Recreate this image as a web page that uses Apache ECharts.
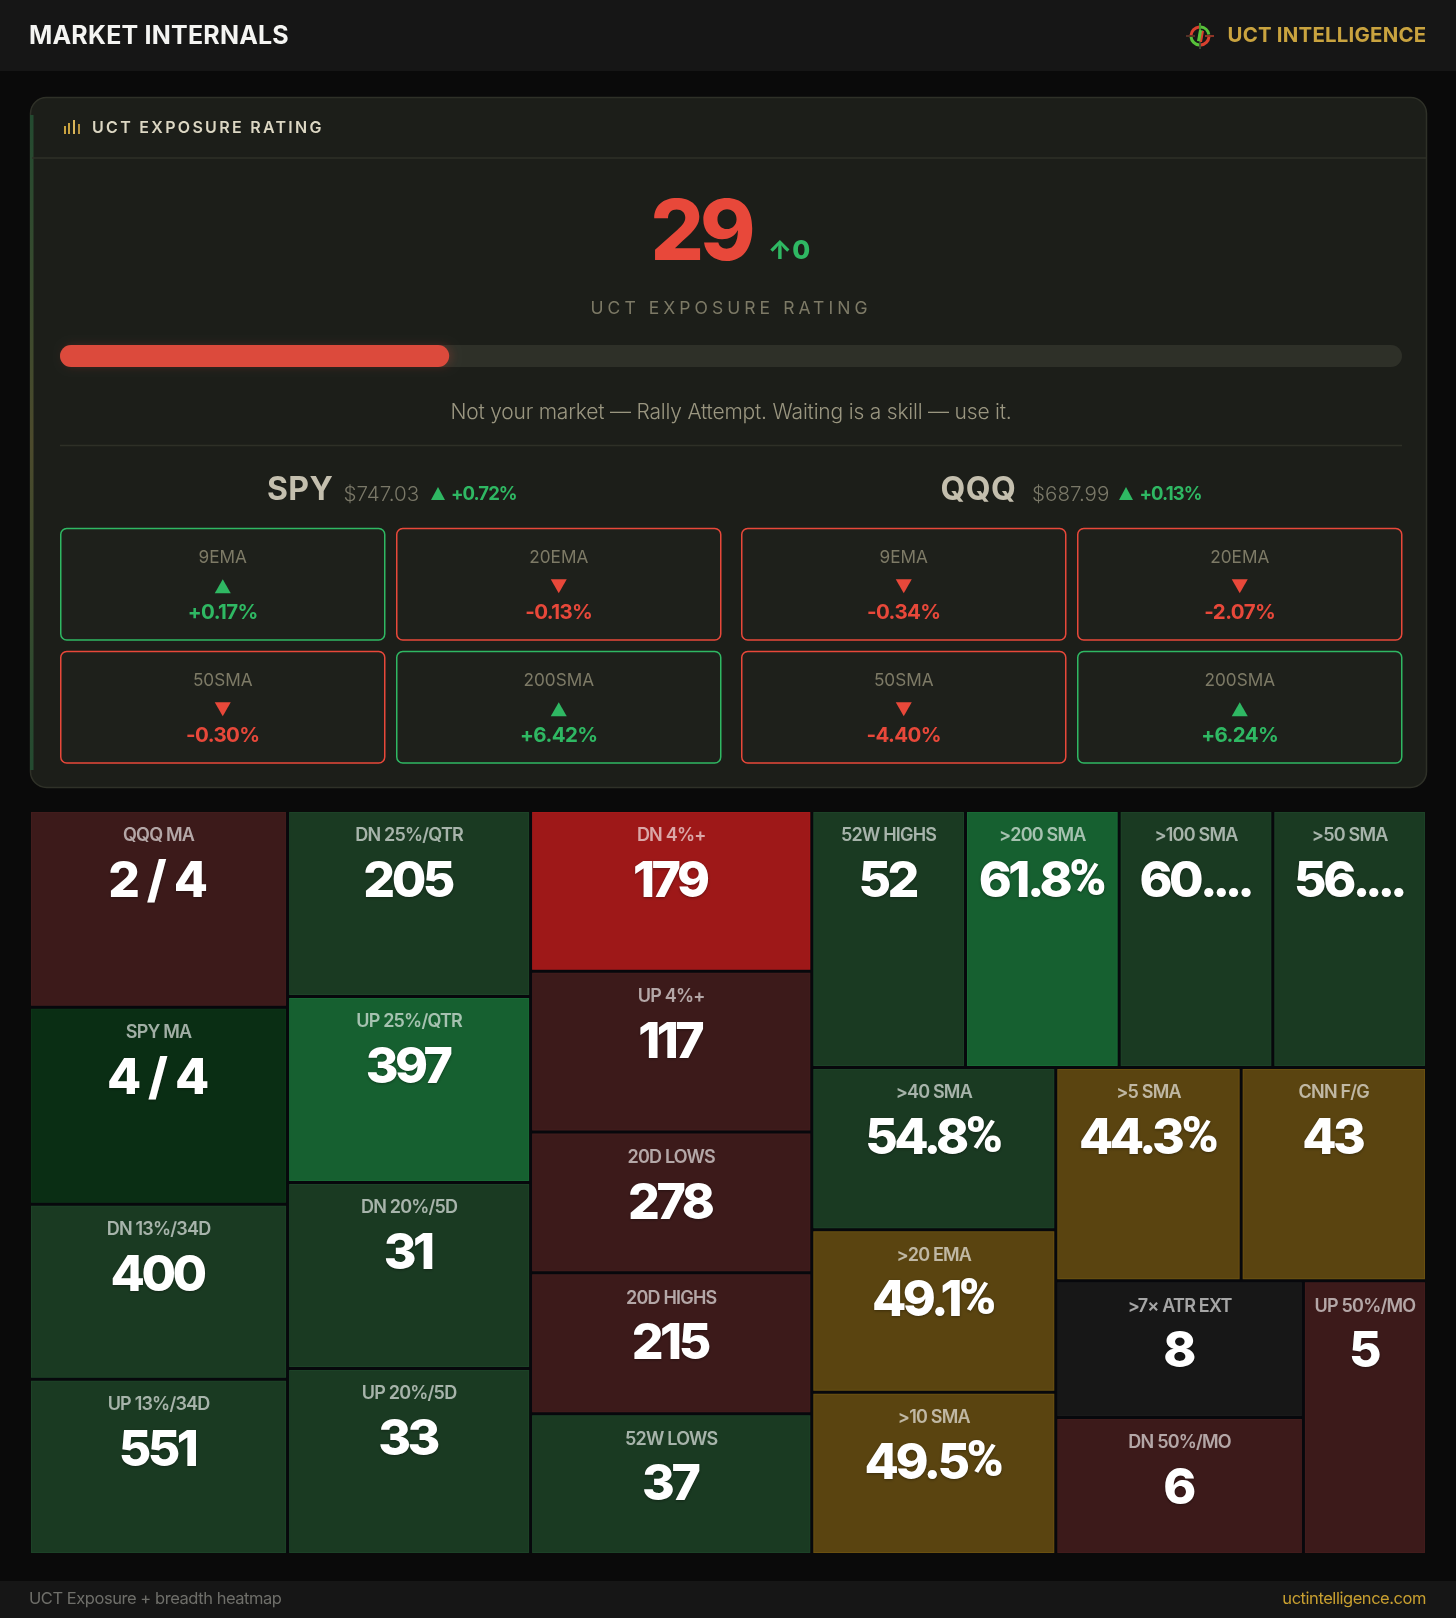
<!DOCTYPE html>
<html>
<head>
<meta charset="utf-8">
<style>html,body{margin:0;padding:0;background:#0a0a0a}#chart{width:1456px;height:1618px}</style>
<script src="https://cdn.jsdelivr.net/npm/echarts@6/dist/echarts.min.js"></script>
</head>
<body>
<div id="chart"></div>
<script>
// ---------- data ----------
const titleText = 'MARKET INTERNALS';
const brandText = 'UCT INTELLIGENCE';
const panelTitle = 'UCT EXPOSURE RATING';
const exposureValue = 29;
const exposureChange = 0;
const exposureMax = 100;
const exposureNote = 'Not your market — Rally Attempt. Waiting is a skill — use it.';
const footerLeft = 'UCT Exposure + breadth heatmap';
const footerRight = 'uctintelligence.com';

const maLabels = ['9EMA', '20EMA', '50SMA', '200SMA'];
const spyPrice = '$747.03';
const spyChange = 0.72;
const spyDistances = [0.17, -0.13, -0.30, 6.42];
const qqqPrice = '$687.99';
const qqqChange = 0.13;
const qqqDistances = [-0.34, -2.07, -4.40, 6.24];

const tileNames = ['QQQ MA','SPY MA','DN 13%/34D','UP 13%/34D','DN 25%/QTR','UP 25%/QTR','DN 20%/5D','UP 20%/5D',
  'DN 4%+','UP 4%+','20D LOWS','20D HIGHS','52W LOWS','52W HIGHS','>200 SMA','>100 SMA','>50 SMA',
  '>40 SMA','>20 EMA','>10 SMA','>5 SMA','CNN F/G','>7× ATR EXT','DN 50%/MO','UP 50%/MO'];
const tileReadings = ['2 / 4','4 / 4','400','551','205','397','31','33',
  '179','117','278','215','37','52','61.8%','60....','56....',
  '54.8%','49.1%','49.5%','44.3%','43','8','6','5'];
const tileWeights = [508,508,452,452,452,452,452,452,
  452,452,396,396,396,395,395,395,395,
  396,396,396,395,395,339,339,337];
const tileTones = ['dr','deep','dg','dg','dg','bg','dg','dg',
  'red','dr','dr','dr','dg','dg','bg','dg','dg',
  'dg','gold','gold','gold','gold','none','dr','dr'];
const tileGroups = [[0,1,2,3],[4,5,6,7],[8,9,10,11,12],
  [[13,14,15,16],[[17,18,19],[[20,21],[[22,23],24]]]]];

// ---------- styling ----------
const FONT = 'Inter';
const GREEN = '#2fb863', RED = '#e8483a', GOLD = '#c9a33f';
const toneFill = {dg:'#1a3a22',dr:'#3c1a1a',bg:'#166030',deep:'#0a2e14',red:'#9e1818',gold:'#5a4410',none:'#171717'};
const toneEdge = {dg:'#1c4227',dr:'#421c1c',bg:'#186a35',deep:'#0c3317',red:'#a51a1a',gold:'#6a5010',none:'#1a1a1a'};

// tracking per font size (the original uses CSS letter-spacing)
const TRACK = {50:-3.5, 49.9:-5.2, 49.8:-2, 18:-0.8, 25:0.2, 16:2.3, 84:-4, 17.5:4.05, 21:-0.2, 32:0.4,
  18.5:-0.95, 20.5:-0.6, 16.5:-0.45, 20.4:0.23};
function applyTrack(ctx) {
  const m = /([\d.]+)px/.exec(ctx.font);
  ctx.letterSpacing = ((m && TRACK[+m[1]]) || 0) + 'px';
}
const fillTextRaw = CanvasRenderingContext2D.prototype.fillText;
const measureRaw = CanvasRenderingContext2D.prototype.measureText;
CanvasRenderingContext2D.prototype.fillText = function (t, x, y, w) {
  applyTrack(this);
  return w === undefined ? fillTextRaw.call(this, t, x, y) : fillTextRaw.call(this, t, x, y, w);
};
CanvasRenderingContext2D.prototype.measureText = function (t) {
  applyTrack(this);
  return measureRaw.call(this, t);
};

function label(text, x, y, size, weight, fill, align) {
  return {type:'text', silent:true, style:{text, x, y:y+1, fontFamily:FONT, fontSize:size, fontWeight:weight, fill,
    align:align||'center', verticalAlign:'middle'}};
}
function rect(x, y, w, h, fill, extra) {
  return Object.assign({type:'rect', silent:true, shape:{x,y,width:w,height:h}, style:{fill}}, extra||{});
}
function tri(cx, cy, w, h, up, fill) {
  const t = cy - h/2, b = cy + h/2;
  return {type:'polygon', silent:true,
    shape:{points: up ? [[cx,t],[cx+w/2,b],[cx-w/2,b]] : [[cx-w/2,t],[cx+w/2,t],[cx,b]]}, style:{fill}};
}
function arc(cx, cy, r, a0, a1, color, lw) {
  return {type:'arc', silent:true, shape:{cx,cy,r,startAngle:a0*Math.PI/180,endAngle:a1*Math.PI/180},
    style:{fill:'none',stroke:color,lineWidth:lw}};
}
function line(x1,y1,x2,y2,color,lw){
  return {type:'line', silent:true, shape:{x1,y1,x2,y2}, style:{stroke:color,lineWidth:lw}};
}

// ---------- static page furniture ----------
const graphics = [
  rect(0,0,1456,71,'#161616'),
  label(titleText,29,35,25,700,'#f4f4f2','left'),
  // brand mark
  arc(1200,36,9,185,265,'#d8402e',3), arc(1200,36,9,275,350,'#58c23a',3),
  arc(1200,36,9,5,85,'#d8402e',3), arc(1200,36,9,95,175,'#58c23a',3),
  line(1200,23,1200,31,'#58c23a',1.5), line(1200,41,1200,49,'#4d5a40',1.5),
  line(1186,36,1195,36,'#6d3a2c',1.5), line(1205,36,1214,36,'#b8402e',1.5),
  {type:'polygon',silent:true,shape:{points:[[1199,30],[1203,30.5],[1201,41.5],[1197,41]]},style:{fill:'#58c23a'}},
  {type:'polygon',silent:true,shape:{points:[[1202,31],[1204,31],[1202,42],[1200,42]]},style:{fill:'#d8402e'}},
  label(brandText,1227.5,35,20.4,700,GOLD,'left'),

  // panel
  rect(30.5,97.5,1396,690,'#1c1e19',{shape:{x:30.5,y:97.5,width:1396,height:690,r:16},style:{fill:'#1c1e19',stroke:'#2f3128',lineWidth:1.5}}),
  rect(30,115,3.5,655,'#2a4a30',{style:{fill:{type:'linear',x:0,y:0,x2:0,y2:1,colorStops:[
    {offset:0,color:'#234a30'},{offset:0.5,color:'#4c4a2c'},{offset:1,color:'#234a30'}]}}}),
  line(32,158,1426,158,'#2e3027',1.5),
  rect(64,126,2,8,'#c9a33f'), rect(68,123,2,11,'#c9a33f'), rect(73,120,2,14,'#d9b65a'), rect(78,124,2,10,'#b89440'),
  label(panelTitle,92,127,16,600,'#dcd7c3','left'),
  label(String(exposureValue),701,234,84,800,RED),
  label('↑'+exposureChange,789,250.5,26,800,GREEN),
  label(panelTitle,731,308,17.5,400,'#7d7a66'),
  label(exposureNote,731,412,21,300,'#9a9680'),
  line(60,445.5,1402,445.5,'#2e3027',1.5),

  // ticker heads
  label('SPY',267,489,32,700,'#c4bfae','left'),
  label(spyPrice,343.5,494,20.6,300,'#7a7868','left'),
  tri(438,493.5,14,13,spyChange>=0,GREEN),
  label('+'+spyChange.toFixed(2)+'%',451,493,18.5,700,GREEN,'left'),
  label('QQQ',940.6,489,32,700,'#c4bfae','left'),
  label(qqqPrice,1032,494,20.6,300,'#7a7868','left'),
  tri(1126,493.5,14,13,qqqChange>=0,GREEN),
  label('+'+qqqChange.toFixed(2)+'%',1139.5,493,18.5,700,GREEN,'left'),

  // footer
  rect(0,1581,1456,37,'#161616'),
  label(footerLeft,29,1598,16.5,400,'#6f6f6a','left'),
  label(footerRight,1426,1598,16.5,400,'#c9a030','right')
];

// ---------- treemap ----------
function tileNode(n) {
  if (Array.isArray(n)) return {name:'', children:n.map(tileNode)};
  return {name:tileNames[n], value:tileWeights[n], reading:tileReadings[n],
    itemStyle:{color:toneFill[tileTones[n]],borderWidth:1,borderColor:toneEdge[tileTones[n]]}};
}
function tileLabel(p) {
  const r = p.data.reading;
  let v = '{v|'+r+'}';
  if (r.endsWith('%')) v = '{w|'+r.slice(0,-1)+'}{p|%}';
  else if (r.endsWith('....')) v = '{w|'+r.slice(0,-4)+'}{d|....}';
  else if (r.includes(' / ')) v = '{m|'+r+'}';
  return '{n|'+p.name+'}\n'+v;
}
const valueFace = {fontFamily:FONT,fontSize:50,fontWeight:800,lineHeight:70,color:'#ffffff',
  textShadowColor:'rgba(0,0,0,0.35)',textShadowBlur:3,textShadowOffsetY:1};
const endPad = {padding:[0,3,0,0]};

// ---------- moving-average cards ----------
function maCards(distances) {
  return function (params, api) {
    const i = params.dataIndex;
    const c = api.coord([api.value(0), api.value(1)]);
    const s = api.size([1,1]);
    const w = s[0]-10.5, h = s[1]-10;
    const val = distances[i], up = val >= 0, col = up ? GREEN : RED;
    const text = (up?'+':'')+val.toFixed(2)+'%';
    return {type:'group', children:[
      {type:'rect', shape:{x:c[0]-w/2+0.75,y:c[1]-h/2+0.75,width:w-1.5,height:h-1.5,r:6},
        style:{fill:'#1e201b',stroke:col,lineWidth:1.5}},
      {type:'text', style:{text:maLabels[i],x:c[0],y:c[1]-26,align:'center',verticalAlign:'middle',
        fontFamily:FONT,fontSize:17.2,fontWeight:400,fill:'#7d7a66'}},
      {type:'polygon', shape:{points: up
        ? [[c[0],c[1]-5],[c[0]+8,c[1]+9],[c[0]-8,c[1]+9]]
        : [[c[0]-8,c[1]-5],[c[0]+8,c[1]-5],[c[0],c[1]+9]]},style:{fill:col}},
      {type:'text', style:{text,x:c[0],y:c[1]+29,align:'center',verticalAlign:'middle',
        fontFamily:FONT,fontSize:20.5,fontWeight:700,fill:col}}
    ]};
  };
}
const cardX = ['left','right'], cardY = ['top','bottom'];
const cardCells = [[0,0],[1,0],[0,1],[1,1]];
function hiddenCat(data, idx, inverse) {
  return {type:'category', gridIndex:idx, data, inverse:!!inverse, show:false};
}

const option = {
  animation:false,
  backgroundColor:'#0a0a0a',
  graphic:{elements:graphics},
  grid:[
    {left:60,top:345,width:1342,height:22},
    {left:54.75,top:522.7,width:672,height:246},
    {left:735.75,top:522.7,width:672,height:246}
  ],
  xAxis:[
    {type:'value',gridIndex:0,min:0,max:exposureMax,show:false},
    hiddenCat(cardX,1), hiddenCat(cardX,2)
  ],
  yAxis:[
    {type:'category',gridIndex:0,data:['exposure'],show:false},
    hiddenCat(cardY,1,true), hiddenCat(cardY,2,true)
  ],
  series:[
    {type:'bar',xAxisIndex:0,yAxisIndex:0,data:[exposureValue],barWidth:22,silent:true,
      showBackground:true,backgroundStyle:{color:'#2e3028',borderRadius:11},
      itemStyle:{color:'#dc4a3c',borderRadius:11,shadowBlur:8,shadowOffsetX:3,shadowColor:'rgba(232,72,58,0.2)'}},
    {type:'custom',xAxisIndex:1,yAxisIndex:1,data:cardCells,renderItem:maCards(spyDistances),silent:true},
    {type:'custom',xAxisIndex:2,yAxisIndex:2,data:cardCells,renderItem:maCards(qqqDistances),silent:true},
    {type:'treemap',left:31,top:812,width:1394,height:741,
      roam:false,nodeClick:false,silent:true,sort:false,squareRatio:0.0001,visibleMin:0,
      breadcrumb:{show:false},
      itemStyle:{gapWidth:3,borderWidth:0,borderColor:'#07080c'},
      upperLabel:{show:false},
      label:{show:true,position:'insideTop',distance:7,overflow:'none',
        formatter:tileLabel,
        rich:{
          n:{fontFamily:FONT,fontSize:18,fontWeight:600,lineHeight:22,color:'rgba(255,255,255,0.62)'},
          v:Object.assign({},valueFace,endPad),
          w:valueFace,
          m:Object.assign({},valueFace,{fontSize:49.8},endPad),
          d:Object.assign({},valueFace,{fontSize:49.9},endPad),
          p:Object.assign({},valueFace,{fontFamily:'Roboto',fontWeight:900},endPad)
        }},
      data:tileGroups.map(tileNode)}
  ]
};
const chart = echarts.init(document.getElementById('chart'),null,{renderer:'canvas',width:1456,height:1618});
chart.setOption(option);
</script>
</body>
</html>
